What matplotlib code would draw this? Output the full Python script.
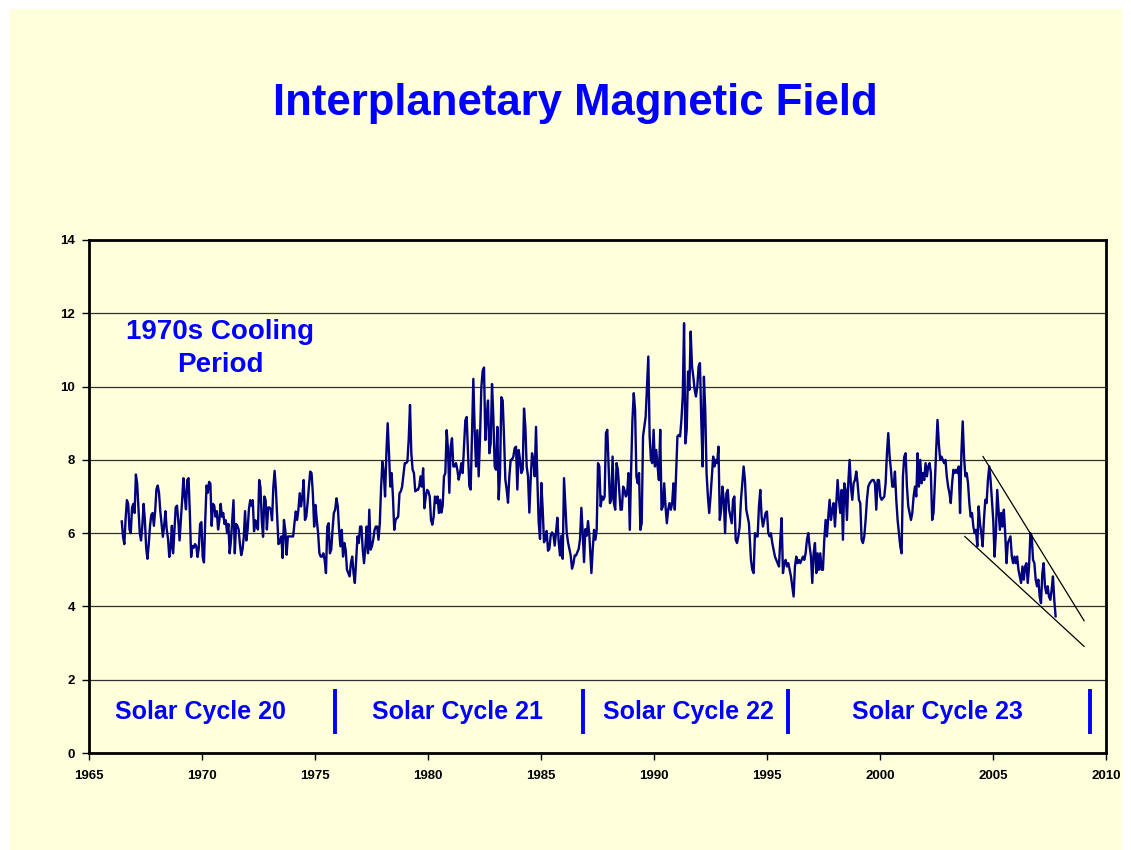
import numpy as np
import matplotlib.pyplot as plt
from matplotlib.patches import Rectangle

plt.rc('font', family='Liberation Sans', weight='bold')

# monthly IMF strength (nT) in six stretches
imf_1966_1973 = [6.32, 5.9, 5.7, 6.4, 6.9, 6.8, 6.1, 6.0, 6.7, 6.8, 6.55, 7.6, 7.35, 6.7, 6.0, 5.8,
                 6.2, 6.8, 6.35, 5.6, 5.3, 5.7, 6.2, 6.5, 6.55, 6.2, 6.6, 7.2, 7.3, 7.1, 6.6, 6.25,
                 5.9, 6.2, 6.6, 6.1, 5.85, 5.35, 5.6, 6.2, 5.45, 6.1, 6.7, 6.75, 6.35, 5.8, 6.35, 6.9,
                 7.5, 7.0, 6.65, 7.45, 7.5, 6.55, 5.35, 5.65, 5.6, 5.7, 5.65, 5.35, 5.6, 6.25, 6.3,
                 5.35, 5.2, 6.35, 7.3, 7.1, 7.4, 7.35, 6.2, 6.8, 6.75, 6.45, 6.6, 6.1, 6.35, 6.8,
                 6.45, 6.55, 6.25, 6.35, 6.0, 6.25, 5.45, 5.8, 6.35, 6.9, 5.45, 6.25, 6.2, 6.1, 5.7,
                 5.4, 5.55, 5.9, 6.6, 5.8, 6.1, 6.65, 6.9, 6.75, 6.9, 6.05, 6.35, 6.2, 6.1, 7.45,
                 7.25, 6.35, 5.9, 7.0, 6.9, 6.1, 6.7, 6.7, 6.65, 6.35, 7.25, 7.7, 7.2, 6.45, 5.7, 5.75]
imf_1973_1980 = [5.91, 5.32, 6.36, 6.09, 5.41, 5.91, 5.91, 5.91, 5.91, 5.91, 6.27, 6.59, 6.36, 6.64,
                 7.09, 6.73, 7.0, 7.45, 6.36, 6.45, 6.82, 7.27, 7.68, 7.64, 7.09, 6.18, 6.77, 6.36,
                 6.0, 5.45, 5.36, 5.36, 5.45, 5.27, 4.91, 6.18, 6.27, 5.45, 5.55, 6.09, 6.55, 6.64,
                 6.95, 6.73, 6.09, 5.64, 6.09, 5.36, 5.73, 5.55, 5.0, 4.91, 4.82, 5.18, 5.36, 4.91,
                 4.64, 5.27, 5.91, 5.73, 6.18, 6.18, 5.55, 5.18, 5.64, 6.18, 5.45, 6.64, 5.55, 5.64,
                 5.82, 6.09, 6.18, 6.18, 5.82, 6.27, 7.27, 7.95, 7.64, 7.0, 8.18, 9.0, 8.18, 7.27,
                 7.64, 7.0, 6.09, 6.36, 6.41, 6.45, 7.09, 7.14, 7.27, 7.59, 7.91, 7.91, 7.95, 8.55,
                 9.5, 8.18, 7.73, 7.64, 7.14, 7.18, 7.18, 7.27, 7.55, 7.27, 7.77, 6.68, 7.0, 7.18,
                 7.14, 7.0, 6.36, 6.23, 6.45, 7.0, 6.82, 7.0, 6.55, 6.91]
imf_1980_1987 = [6.56, 6.74, 7.55, 7.64, 8.81, 8.27, 7.1, 8.36, 8.59, 7.82, 7.82, 7.91, 7.73, 7.46,
                 7.64, 7.91, 7.64, 8.36, 9.08, 9.17, 8.18, 7.28, 7.19, 8.72, 10.21, 8.81, 7.82, 8.81,
                 7.55, 8.59, 9.98, 10.43, 10.52, 8.54, 9.17, 9.62, 8.18, 8.45, 10.07, 9.17, 7.82,
                 7.73, 8.9, 6.92, 7.64, 9.71, 9.62, 8.63, 7.46, 7.19, 6.83, 7.55, 8.0, 8.0, 8.09,
                 8.32, 8.36, 7.19, 8.27, 8.0, 7.64, 7.73, 9.4, 8.9, 7.82, 7.55, 6.56, 7.46, 8.18, 8.0,
                 7.55, 8.9, 7.46, 6.29, 5.84, 7.37, 6.65, 5.75, 5.84, 6.06, 5.52, 5.57, 5.93, 6.02,
                 5.97, 5.66, 6.02, 6.42, 5.75, 5.39, 5.93, 5.3, 7.5, 6.74, 6.02, 5.75, 5.57, 5.39,
                 5.03, 5.16, 5.39, 5.39, 5.48, 5.57, 5.84, 6.69, 6.02, 5.21, 6.11, 5.93, 6.33, 5.93]
imf_1987_1994 = [4.91, 5.55, 6.09, 5.82, 6.09, 7.91, 7.82, 6.73, 7.0, 6.91, 7.0, 8.73, 8.82, 7.82,
                 6.82, 6.91, 8.09, 6.82, 6.64, 7.91, 7.73, 7.18, 6.64, 6.64, 7.27, 7.18, 7.0, 7.09,
                 7.64, 6.09, 7.73, 9.09, 9.82, 9.36, 7.55, 7.36, 7.64, 6.09, 6.27, 8.64, 8.91, 9.18,
                 10.0, 10.82, 8.64, 8.0, 7.91, 8.82, 7.82, 8.27, 7.82, 7.45, 8.82, 6.64, 6.73, 7.36,
                 6.73, 6.27, 6.64, 6.82, 6.64, 6.82, 7.36, 6.64, 7.64, 8.64, 8.68, 8.64, 9.09, 9.73,
                 11.73, 8.45, 8.82, 10.41, 9.91, 11.5, 10.55, 10.27, 9.91, 9.73, 10.0, 10.55, 10.64,
                 9.09, 7.82, 10.27, 9.36, 7.64, 7.0, 6.55, 7.0, 7.55, 8.09, 7.82, 8.0, 7.91, 8.36,
                 6.36, 6.64, 7.27, 6.91, 6.0, 7.09, 7.18, 6.64, 6.45, 6.27, 6.91, 7.0, 5.82, 5.73,
                 5.91, 6.18, 6.91, 7.36, 7.82, 7.45, 6.64, 6.45, 6.27]
imf_1994_2001 = [5.27, 5.0, 4.91, 6.0, 5.91, 5.91, 6.73, 7.18, 6.45, 6.18, 6.36, 6.55, 6.59, 6.0,
                 5.91, 6.0, 5.73, 5.55, 5.36, 5.27, 5.18, 5.09, 5.82, 6.41, 4.91, 5.18, 5.27, 5.09,
                 5.18, 5.0, 4.82, 4.55, 4.27, 5.09, 5.36, 5.18, 5.27, 5.18, 5.27, 5.36, 5.27, 5.45,
                 5.82, 6.0, 5.64, 5.36, 4.64, 5.45, 5.73, 4.91, 5.45, 5.0, 5.45, 5.0, 5.0, 5.82,
                 6.36, 5.91, 6.45, 6.91, 6.36, 6.64, 6.82, 6.18, 6.82, 7.45, 6.91, 6.55, 7.18, 5.82,
                 7.36, 7.18, 6.36, 7.36, 8.0, 7.27, 6.91, 7.36, 7.45, 7.68, 7.36, 6.91, 6.82, 5.82,
                 5.73, 5.91, 6.36, 6.91, 7.27, 7.36, 7.41, 7.45, 7.45, 7.36, 6.64, 7.45, 7.45, 7.0,
                 6.91, 6.95, 7.0, 7.36, 8.18, 8.73, 8.09, 7.73, 7.27, 7.27, 7.68, 6.91, 6.36, 6.0,
                 5.64, 5.45, 7.55, 8.09, 8.18, 7.27, 6.73, 6.55]
imf_2001_2008 = [6.36, 6.55, 7.0, 7.27, 7.0, 8.18, 7.27, 8.0, 7.36, 7.64, 7.45, 7.91, 7.55, 7.82,
                 7.91, 7.64, 6.36, 6.55, 7.36, 8.27, 9.09, 8.45, 8.0, 8.09, 8.0, 7.91, 8.0, 7.55,
                 7.27, 7.09, 6.82, 7.36, 7.73, 7.64, 7.73, 7.64, 7.82, 6.55, 8.18, 9.05, 8.09, 7.55,
                 7.64, 7.36, 6.82, 6.45, 6.55, 6.18, 6.0, 6.09, 5.64, 6.73, 6.27, 6.0, 5.64, 6.36,
                 6.91, 6.82, 7.45, 7.82, 7.45, 6.91, 6.36, 5.36, 6.0, 7.18, 6.64, 6.09, 6.55, 6.18,
                 6.64, 6.0, 5.18, 5.73, 5.82, 5.91, 5.36, 5.18, 5.36, 5.18, 5.36, 5.0, 4.82, 4.64,
                 5.09, 4.73, 5.09, 5.18, 4.64, 5.09, 6.0, 5.91, 5.27, 5.18, 4.73, 4.55, 4.73, 4.27,
                 4.09, 4.91, 5.18, 4.55, 4.36, 4.55, 4.27, 4.18, 4.45, 4.82, 4.18, 3.73]
# first / last year of each stretch
stretch_years = [(1966.45, 1973.44), (1973.51, 1980.54), (1980.59, 1987.14),
                 (1987.23, 1994.20), (1994.29, 2001.31), (2001.37, 2007.77)]

# hand-drawn decline channel
trend_upper = ([2004.56, 2009.03], [8.09, 3.61])
trend_lower = ([2003.75, 2009.03], [5.91, 2.91])

cycle_names = ['Solar Cycle 20', 'Solar Cycle 21', 'Solar Cycle 22', 'Solar Cycle 23']
cycle_label_x = [1969.94, 1981.31, 1991.54, 2002.55]
cycle_bounds = [1975.88, 1986.86, 1995.93, 2009.28]

stretches = [imf_1966_1973, imf_1973_1980, imf_1980_1987,
             imf_1987_1994, imf_1994_2001, imf_2001_2008]
years, imf = [], []
for (y0, y1), vals in zip(stretch_years, stretches):
    years.extend(np.linspace(y0, y1, len(vals)))
    imf.extend(vals)

bg = '#FFFFDC'
fig = plt.figure(figsize=(11.31, 8.5), dpi=100)
fig.patches.append(Rectangle((10 / 1131, 0), 1111 / 1131, 841 / 850,
                             transform=fig.transFigure, color=bg, zorder=-10))
ax = fig.add_axes([89 / 1131, 97 / 850, 1017 / 1131, 513 / 850])
ax.set_facecolor(bg)

ax.plot(years, imf, color='#000080', lw=1.7, zorder=3)
ax.plot(*trend_upper, color='black', lw=0.9, zorder=4)
ax.plot(*trend_lower, color='black', lw=0.9, zorder=4)

for xb in cycle_bounds:
    ax.plot([xb, xb], [0.53, 1.74], color='#0000FF', lw=2.8, solid_capstyle='butt')
for name, xl in zip(cycle_names, cycle_label_x):
    ax.text(xl, 1.12, name, color='#0000FF', fontsize=18, ha='center', va='center')

ax.text(1970.8, 11.03, '1970s Cooling\nPeriod', color='#0000FF', fontsize=20,
        ha='center', va='center', linespacing=1.35)

ax.set_xlim(1965, 2010)
ax.set_ylim(0, 14)
ax.set_xticks(range(1965, 2011, 5))
ax.set_yticks(range(0, 15, 2))
ax.grid(axis='y', color='#303030', lw=0.9)
ax.set_axisbelow(True)
for s in ax.spines.values():
    s.set_linewidth(2)
ax.tick_params(labelsize=9.5, length=5, width=1)
ax.tick_params(axis='x', pad=7)
ax.tick_params(axis='y', pad=5)

fig.text(575 / 1131, 1 - 103 / 850, 'Interplanetary Magnetic Field', color='#0000FF',
         fontsize=31.5, ha='center', va='center')

fig.savefig('out.png', dpi=100)
